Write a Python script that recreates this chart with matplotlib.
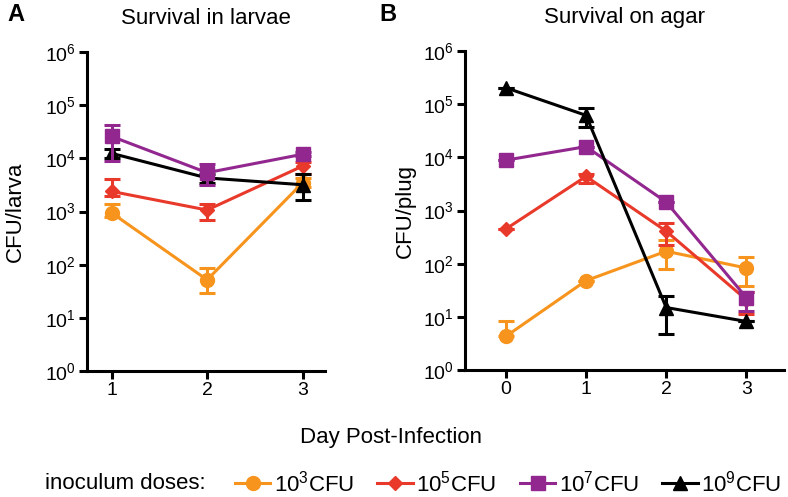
import matplotlib
matplotlib.use("Agg")
import matplotlib.pyplot as plt
import numpy as np
from matplotlib.lines import Line2D

plt.rcParams['font.family'] = ['Liberation Sans', 'DejaVu Sans']
plt.rcParams['mathtext.fontset'] = 'custom'
plt.rcParams['mathtext.rm'] = 'Liberation Sans'
plt.rcParams['mathtext.it'] = 'Liberation Sans'

# ---------------- data ----------------
series_names = ["10$^3$CFU", "10$^5$CFU", "10$^7$CFU", "10$^9$CFU"]
colors = ["#F7941D", "#E8392A", "#92278F", "#000000"]
markers = ["o", "D", "s", "^"]
msizes = [10, 7.5, 9.5, 9.5]

days_larvae = [1, 2, 3]
larvae_orange = [950, 52, 3500]
larvae_orange_lo = [780, 29, 2900]
larvae_orange_hi = [1380, 88, 4200]
larvae_red = [2400, 1070, 7200]
larvae_red_lo = [1950, 700, 5100]
larvae_red_hi = [4100, 1380, 8500]
larvae_purple = [26000, 5400, 12000]
larvae_purple_lo = [9000, 3200, 11000]
larvae_purple_hi = [42000, 7800, 13500]
larvae_black = [12500, 4300, 3200]
larvae_black_lo = [10000, 3500, 1650]
larvae_black_hi = [15000, 5000, 5000]

days_agar = [0, 1, 2, 3]
agar_orange = [4.3, 48, 172, 83]
agar_orange_lo = [4.3, 48, 80, 38]
agar_orange_hi = [8.3, 48, 275, 134]
agar_red = [450, 4400, 410, 21]
agar_red_lo = [450, 3300, 225, 11.5]
agar_red_hi = [450, 4900, 580, 30]
agar_purple = [8900, 16000, 1450, 23]
agar_purple_lo = [8900, 16000, 1450, 12.8]
agar_purple_hi = [8900, 16000, 1450, 29]
agar_black = [205000, 62000, 15, 8.2]
agar_black_lo = [205000, 37000, 4.7, 8.2]
agar_black_hi = [205000, 87000, 24.5, 8.2]

ytick_vals = [1, 10, 100, 1000, 10000, 100000, 1000000]
ytick_labels = ["10$^{%d}$" % i for i in range(7)]

larvae = [(larvae_orange, larvae_orange_lo, larvae_orange_hi),
          (larvae_red, larvae_red_lo, larvae_red_hi),
          (larvae_purple, larvae_purple_lo, larvae_purple_hi),
          (larvae_black, larvae_black_lo, larvae_black_hi)]
agar = [(agar_orange, agar_orange_lo, agar_orange_hi),
        (agar_red, agar_red_lo, agar_red_hi),
        (agar_purple, agar_purple_lo, agar_purple_hi),
        (agar_black, agar_black_lo, agar_black_hi)]

fig = plt.figure(figsize=(7.88, 4.97), dpi=100)
axA = fig.add_axes([0.110, 0.2535, 0.302, 0.6415])
axB = fig.add_axes([0.590, 0.2555, 0.405, 0.6415])


def draw(ax, days, data, zorders):
    for i, (v, lo, hi) in enumerate(data):
        v = np.array(v, float)
        yerr = np.vstack([v - np.array(lo, float), np.array(hi, float) - v])
        ax.errorbar(days, v, yerr=yerr, color=colors[i], marker=markers[i],
                    markersize=msizes[i], lw=2.2, elinewidth=2.2, capsize=5.5,
                    capthick=2.2, zorder=zorders[i], clip_on=False)


draw(axA, days_larvae, larvae, [3, 4, 6, 5])
draw(axB, days_agar, agar, [3, 4, 5, 6])

for ax in (axA, axB):
    ax.set_yscale('log')
    ax.set_ylim(1, 1e6)
    ax.set_yticks(ytick_vals)
    ax.set_yticklabels(ytick_labels)
    ax.yaxis.set_minor_locator(matplotlib.ticker.NullLocator())
    for s in ('top', 'right'):
        ax.spines[s].set_visible(False)
    for s in ('left', 'bottom'):
        ax.spines[s].set_linewidth(2.2)
    ax.tick_params(axis='both', which='major', length=6, width=2.2,
                   labelsize=14, pad=2)

axA.set_xlim(0.74, 3.23)
axA.set_xticks(days_larvae)
axB.set_xlim(-0.51, 3.47)
axB.set_xticks(days_agar)

axA.set_ylabel("CFU/larva", fontsize=16)
axB.set_ylabel("CFU/plug", fontsize=16)
axA.yaxis.set_label_coords(-0.255, 0.5)
axB.yaxis.set_label_coords(-0.155, 0.5)
axA.set_title("Survival in larvae", fontsize=16, pad=20)
axB.set_title("Survival on agar", fontsize=16, pad=20)

fig.text(0.010, 0.970, "A", fontsize=17, fontweight='bold', va='center', ha='left')
fig.text(0.482, 0.970, "B", fontsize=17, fontweight='bold', va='center', ha='left')

fig.text(0.496, 0.119, "Day Post-Infection", fontsize=16, ha='center', va='center')
fig.text(0.057, 0.028, "inoculum doses:", fontsize=16, ha='left', va='center')

handles = [Line2D([0], [0], color=colors[i], marker=markers[i], markersize=msizes[i],
                  lw=2.2) for i in range(4)]
fig.legend(handles, series_names, loc='center left', bbox_to_anchor=(0.298, 0.028),
           ncol=4, frameon=False, fontsize=16, handlelength=1.6, handletextpad=0.15,
           columnspacing=1.05, borderaxespad=0, borderpad=0)

fig.savefig("out.png", dpi=100)
